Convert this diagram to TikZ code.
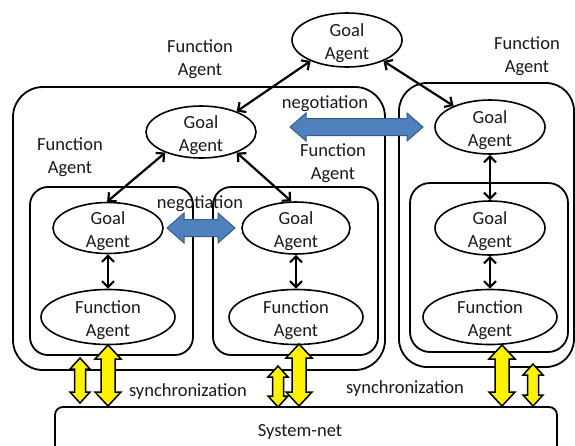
\documentclass[tikz,border=0pt]{standalone}
\usepackage{fontspec}
\setmainfont{Carlito}
\usetikzlibrary{shapes.geometric,arrows.meta}
\definecolor{negblue}{RGB}{79,129,189}
\definecolor{negedge}{RGB}{56,93,138}
\definecolor{ink}{RGB}{25,25,25}
\newcommand\agfont{\fontsize{18.5}{23}\selectfont}
\newcommand\hdbl[7][]{% x1,x2,y,shaft half,head half,head length
  \filldraw[#1] (#2,#4) -- ({#2+#7},{#4-#6}) -- ({#2+#7},{#4-#5}) -- ({#3-#7},{#4-#5}) -- ({#3-#7},{#4-#6}) -- (#3,#4)
    -- ({#3-#7},{#4+#6}) -- ({#3-#7},{#4+#5}) -- ({#2+#7},{#4+#5}) -- ({#2+#7},{#4+#6}) -- cycle;}
\newcommand\vdbl[7][]{% y1,y2,x,shaft half,head half,head length
  \filldraw[#1] (#4,#2) -- ({#4-#6},{#2+#7}) -- ({#4-#5},{#2+#7}) -- ({#4-#5},{#3-#7}) -- ({#4-#6},{#3-#7}) -- (#4,#3)
    -- ({#4+#6},{#3-#7}) -- ({#4+#5},{#3-#7}) -- ({#4+#5},{#2+#7}) -- ({#4+#6},{#2+#7}) -- cycle;}
\tikzset{
  lbl/.style={align=center,font=\agfont,inner sep=0pt,text=ink},
  agent/.style={ellipse,draw,line width=1.6pt,inner sep=0pt},
  goalag/.style={agent,minimum width=110pt,minimum height=54pt,
    label={[lbl,yshift=-3pt]center:{Goal\\Agent}}},
  funcag/.style={agent,minimum width=134pt,minimum height=55pt,
    label={[lbl,yshift=-3pt]center:{Function\\Agent}}},
  frame/.style={draw,line width=1.8pt},
  link/.style={line width=2.2pt,{Straight Barb[length=6pt,width=12pt]}-{Straight Barb[length=6pt,width=12pt]}},
  nego/.style={fill=negblue,draw=negedge,line width=1pt},
  sync/.style={fill=yellow,draw=black,line width=1.5pt,line join=miter}
}
\begin{document}
\begin{tikzpicture}[x=1pt,y=-1pt]
\useasboundingbox (0,0) rectangle (575,445);
% frames
\draw[frame,rounded corners=30pt] (13,87) rectangle (385,370);
\draw[frame,rounded corners=18pt] (30,187) rectangle (193,355);
\draw[frame,rounded corners=18pt] (213,187) rectangle (378,355);
\draw[frame,rounded corners=28pt] (399,83) rectangle (574,367);
\draw[frame,rounded corners=20pt] (410,183) rectangle (568,352);
\draw[frame,rounded corners=8pt] (55,407) rectangle (557,470);
% agents
\node[goalag] (gtop) at (347,40) {};
\node[goalag,minimum height=52pt] (gmid) at (201,132) {};
\node[goalag] (gright) at (490,127) {};
\node[goalag,minimum height=51pt] (gl) at (108,228) {};
\node[goalag,minimum width=108pt,minimum height=52pt] (gm) at (296,228) {};
\node[goalag] (gr2) at (490,228) {};
\node[funcag] (fl) at (108,317) {};
\node[funcag] (fm) at (296,317) {};
\node[funcag] (fr) at (490,317) {};
% labels
\node[lbl] (lab1) at (200,59.5) {Function\\Agent};
\node[lbl] (lab2) at (70,157.5) {Function\\Agent};
\node[lbl] (lab3) at (333,163.5) {Function\\Agent};
\node[lbl] (lab4) at (527,56.5) {Function\\Agent};
\node[lbl] (neg1) at (325,104) {negotiation};
\node[lbl] (neg2) at (200,204) {negotiation};
\node[lbl] (syn1) at (188,392) {synchronization};
\node[lbl] (syn2) at (405,389) {synchronization};
\node[lbl] (sys) at (300,432) {System-net};
% links
\draw[link] (gtop.210) -- (gmid.30);
\draw[link] (gtop.330) -- (gright.150);
\draw[link] (gmid.210) -- (gl.92);
\draw[link] (gmid.330) -- (gm.100);
\draw[link] (gl) -- (fl);
\draw[link] (gm) -- (fm);
\draw[link] (gright) -- (gr2);
\draw[link] (gr2) -- (fr);
% negotiation arrows
\hdbl[nego]{290}{423}{127}{8.5}{14}{16}
\hdbl[nego]{167}{235}{228}{8.5}{15}{17}
% synchronization arrows
\vdbl[sync]{358}{403}{80}{5.5}{10}{11}
\vdbl[sync]{345}{406}{108}{7}{13}{14}
\vdbl[sync]{366}{407}{278}{5.5}{10}{11}
\vdbl[sync]{344}{406}{299}{7}{13}{14}
\vdbl[sync]{345}{406}{502}{7}{13}{14}
\vdbl[sync]{364}{406}{533}{5.5}{10}{11}
\end{tikzpicture}
\end{document}
